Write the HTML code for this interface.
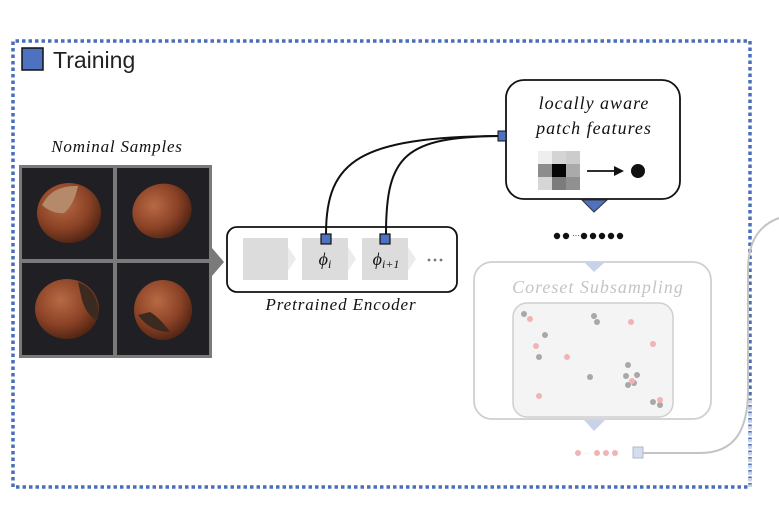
<!DOCTYPE html>
<html><head><meta charset="utf-8"><style>
html,body{margin:0;padding:0;background:#fff;}
svg{display:block;}
.it{font-family:"Liberation Serif",serif;font-style:italic;}
</style></head><body>
<svg width="779" height="508" viewBox="0 0 779 508" xmlns="http://www.w3.org/2000/svg">
<defs>
<radialGradient id="nut" cx="0.4" cy="0.35" r="0.7">
<stop offset="0" stop-color="#b86a45"/><stop offset="0.6" stop-color="#8a4125"/><stop offset="1" stop-color="#4a2212"/>
</radialGradient>
</defs>
<!-- dashed border -->
<path d="M13 487 V41 H750 V487 Z" fill="none" stroke="#4a6fb8" stroke-width="3.5" stroke-dasharray="3.5 3"/>
<path d="M750 400 V487" stroke="#c8d2e8" stroke-width="3.5" stroke-dasharray="3.5 3"/>
<rect x="22" y="48" width="21" height="22" fill="#4f72c0" stroke="#111" stroke-width="1.5"/>
<text x="53" y="68" font-family="Liberation Sans, sans-serif" font-size="23" fill="#222">Training</text>

<!-- Nominal samples -->
<text x="117" y="152" class="it" font-size="17" letter-spacing="0.8" text-anchor="middle" fill="#111">Nominal Samples</text>
<rect x="19" y="165" width="193" height="193" fill="#7a7a7a"/>
<rect x="22" y="168" width="91" height="91" fill="#1f1f24"/>
<rect x="117" y="168" width="92" height="91" fill="#1f1f24"/>
<rect x="22" y="263" width="91" height="92" fill="#1f1f24"/>
<rect x="117" y="263" width="92" height="92" fill="#1f1f24"/>
<ellipse cx="69" cy="213" rx="32" ry="30" fill="url(#nut)"/>
<path d="M42 205 Q52 185 78 186 Q74 205 64 213 Q52 214 42 205Z" fill="#b58a6a"/>
<ellipse cx="162" cy="211" rx="30" ry="27" fill="url(#nut)" transform="rotate(-20 162 211)"/>
<ellipse cx="67" cy="309" rx="32" ry="30" fill="url(#nut)"/>
<path d="M78 282 Q100 290 98 320 Q88 318 82 300Z" fill="#3a2a20"/>
<ellipse cx="163" cy="310" rx="29" ry="30" fill="url(#nut)"/>
<path d="M138 315 Q150 332 170 332 Q160 318 150 312Z" fill="#3a2a20"/>
<polygon points="212,248 224,262 212,276" fill="#7a7a7a"/>

<!-- Encoder -->
<rect x="227" y="227" width="230" height="65" rx="10" fill="#fff" stroke="#111" stroke-width="1.8"/>
<rect x="243" y="238" width="45" height="42" fill="#dcdcdc"/>
<polygon points="288,247 296,259 288,271" fill="#ececec"/>
<rect x="302" y="238" width="46" height="42" fill="#dcdcdc"/>
<polygon points="348,247 356,259 348,271" fill="#ececec"/>
<rect x="362" y="238" width="46" height="42" fill="#dcdcdc"/>
<polygon points="408,247 416,259 408,271" fill="#ececec"/>
<text x="325" y="265" class="it" font-size="18" text-anchor="middle" fill="#111">ϕ<tspan font-size="12" dy="3">i</tspan></text>
<text x="386" y="265" class="it" font-size="18" text-anchor="middle" fill="#111">ϕ<tspan font-size="12" dy="3">i+1</tspan></text>
<g fill="#777"><circle cx="429" cy="260" r="1.4"/><circle cx="435" cy="260" r="1.4"/><circle cx="441" cy="260" r="1.4"/></g>
<text x="341" y="310" class="it" font-size="17" letter-spacing="0.9" text-anchor="middle" fill="#111">Pretrained Encoder</text>

<!-- curves -->
<path d="M326 234 C326 160 360 137 500 136" fill="none" stroke="#111" stroke-width="2"/>
<path d="M386 234 C386 155 405 137 500 136" fill="none" stroke="#111" stroke-width="2"/>
<rect x="321" y="234" width="10" height="10" fill="#4f72c0" stroke="#111" stroke-width="1.2"/>
<rect x="380" y="234" width="10" height="10" fill="#4f72c0" stroke="#111" stroke-width="1.2"/>

<!-- patch features -->
<rect x="506" y="80" width="174" height="119" rx="18" fill="#fff" stroke="#111" stroke-width="1.8"/>
<rect x="498" y="131" width="8" height="10" fill="#4f72c0" stroke="#111" stroke-width="1"/>
<text x="594" y="109" class="it" font-size="18" letter-spacing="1" text-anchor="middle" fill="#111">locally aware</text>
<text x="594" y="134" class="it" font-size="18" letter-spacing="1" text-anchor="middle" fill="#111">patch features</text>
<g transform="translate(538,151)">
<rect x="0" y="0" width="14" height="13" fill="#eeeeee"/><rect x="14" y="0" width="14" height="13" fill="#d4d4d4"/><rect x="28" y="0" width="14" height="13" fill="#cccccc"/>
<rect x="0" y="13" width="14" height="13" fill="#8c8c8c"/><rect x="14" y="13" width="14" height="13" fill="#050505"/><rect x="28" y="13" width="14" height="13" fill="#aaaaaa"/>
<rect x="0" y="26" width="14" height="13" fill="#d6d6d6"/><rect x="14" y="26" width="14" height="13" fill="#7c7c7c"/><rect x="28" y="26" width="14" height="13" fill="#909090"/>
</g>
<line x1="587" y1="171" x2="617" y2="171" stroke="#111" stroke-width="1.8"/>
<polygon points="614,166 624,171 614,176" fill="#111"/>
<circle cx="638" cy="171" r="7" fill="#111"/>
<polygon points="582,200 607,200 594,212" fill="#4f72c0" stroke="#333" stroke-width="1"/>

<!-- dots row -->
<g fill="#111"><circle cx="557" cy="236" r="3.2"/><circle cx="566" cy="236" r="3.2"/>
<circle cx="584" cy="236" r="3.2"/><circle cx="593" cy="236" r="3.2"/><circle cx="602" cy="236" r="3.2"/><circle cx="611" cy="236" r="3.2"/><circle cx="620" cy="236" r="3.2"/></g>
<text x="576" y="238" font-size="8" font-family="Liberation Sans" fill="#111" text-anchor="middle">···</text>

<!-- coreset -->
<rect x="474" y="262" width="237" height="157" rx="18" fill="#fff" stroke="#cfcfcf" stroke-width="1.8"/>
<polygon points="584,262 605,262 594,272" fill="#c8d2e8"/>
<text x="598" y="293" class="it" font-size="18" letter-spacing="1" text-anchor="middle" fill="#c4c4c4">Coreset Subsampling</text>
<rect x="513" y="303" width="160" height="114" rx="14" fill="#f4f4f4" stroke="#cfcfcf" stroke-width="1.5"/>
<g fill="#a8a8a8"><circle cx="524" cy="314" r="3"/><circle cx="594" cy="316" r="3"/><circle cx="597" cy="322" r="3"/><circle cx="545" cy="335" r="3"/><circle cx="539" cy="357" r="3"/><circle cx="590" cy="377" r="3"/><circle cx="628" cy="365" r="3"/><circle cx="626" cy="376" r="3"/><circle cx="637" cy="375" r="3"/><circle cx="628" cy="385" r="3"/><circle cx="634" cy="383" r="3"/><circle cx="653" cy="402" r="3"/><circle cx="660" cy="405" r="3"/></g>
<g fill="#f0b4b4"><circle cx="530" cy="319" r="3"/><circle cx="631" cy="322" r="3"/><circle cx="536" cy="346" r="3"/><circle cx="653" cy="344" r="3"/><circle cx="567" cy="357" r="3"/><circle cx="632" cy="381" r="3"/><circle cx="539" cy="396" r="3"/><circle cx="660" cy="400" r="3"/></g>
<polygon points="584,420 605,420 594,431" fill="#c8d2e8"/>
<g fill="#f0b4b4"><circle cx="578" cy="453" r="3"/><circle cx="597" cy="453" r="3"/><circle cx="606" cy="453" r="3"/><circle cx="615" cy="453" r="3"/></g>
<text x="587" y="455" font-size="6" font-family="Liberation Sans" fill="#f0b4b4" text-anchor="middle">···</text>
<path d="M643 453 H700 C735 453 748 430 748 390 V270 C748 240 760 225 779 218" fill="none" stroke="#c4c4c4" stroke-width="2"/>
<rect x="633" y="447" width="10" height="11" fill="#d4dcee" stroke="#b0b8c8" stroke-width="1"/>
</svg>
</body></html>
